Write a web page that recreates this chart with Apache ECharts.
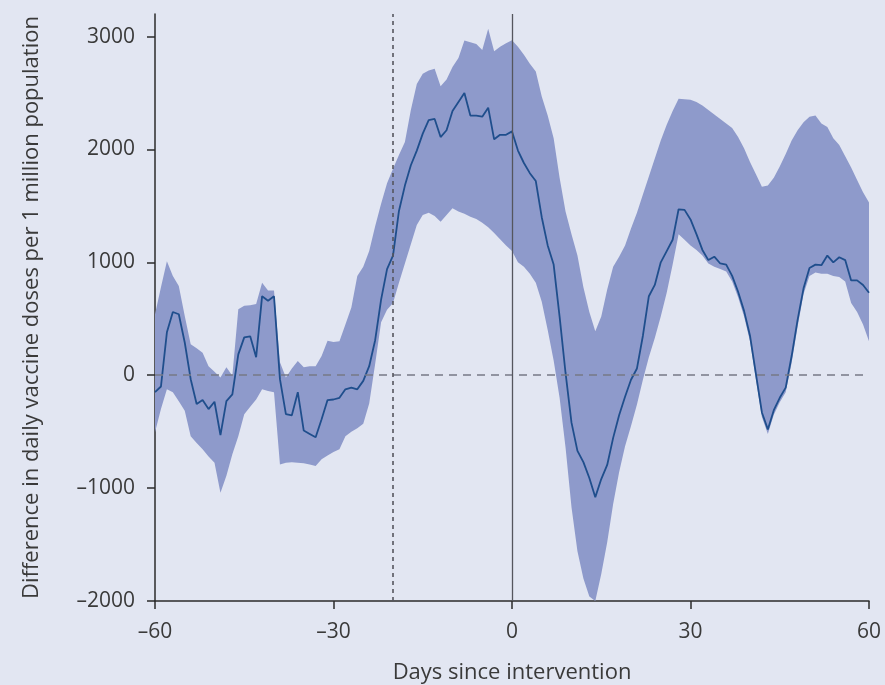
<!DOCTYPE html>
<html>
<head>
<meta charset="utf-8">
<script src="https://cdn.jsdelivr.net/npm/echarts@6/dist/echarts.min.js"></script>
<style>
html,body{margin:0;padding:0;background:#e2e6f2;}
#chart{width:885px;height:685px;}
</style>
</head>
<body>
<div id="chart"></div>
<script>
// Days since intervention
const days = [
 -60,-59,-58,-57,-56,-55,-54,-53,-52,-51,
 -50,-49,-48,-47,-46,-45,-44,-43,-42,-41,
 -40,-39,-38,-37,-36,-35,-34,-33,-32,-31,
 -30,-29,-28,-27,-26,-25,-24,-23,-22,-21,
 -20,-19,-18,-17,-16,-15,-14,-13,-12,-11,
 -10,-9,-8,-7,-6,-5,-4,-3,-2,-1,
 0,1,2,3,4,5,6,7,8,9,
 10,11,12,13,14,15,16,17,18,19,
 20,21,22,23,24,25,26,27,28,29,
 30,31,32,33,34,35,36,37,38,39,
 40,41,42,43,44,45,46,47,48,49,
 50,51,52,53,54,55,56,57,58,59,60
];
// Estimated difference in daily vaccine doses per 1 million population
const meanDiff = [
 -150,-100,380,560,540,290,-35,-255,-220,-300,
 -235,-530,-230,-170,185,335,345,160,700,660,
 700,-35,-345,-355,-150,-490,-520,-550,-390,-220,
 -215,-200,-125,-110,-125,-50,80,310,670,940,
 1060,1455,1680,1860,1990,2140,2260,2270,2110,2170,
 2340,2420,2500,2300,2300,2290,2370,2090,2130,2130,
 2160,1990,1880,1790,1720,1400,1150,980,520,20,
 -420,-670,-770,-910,-1080,-920,-795,-555,-355,-190,
 -40,60,350,700,800,1000,1100,1200,1470,1465,
 1380,1250,1110,1020,1050,990,980,880,740,570,
 350,10,-330,-480,-310,-200,-110,170,490,770,
 950,980,975,1060,1000,1045,1020,840,840,800,730
];
// Upper bound of the uncertainty band
const upperBound = [
 540,780,1010,880,790,525,275,240,200,80,
 30,-20,70,-5,585,615,620,630,820,750,
 750,115,-20,60,125,70,80,80,170,305,
 295,300,450,600,880,960,1100,1320,1520,1700,
 1830,1950,2065,2350,2580,2670,2700,2715,2560,2620,
 2730,2810,2965,2950,2935,2880,3070,2870,2910,2940,
 2968,2910,2840,2760,2690,2470,2300,2100,1750,1450,
 1250,1060,780,560,390,520,760,960,1050,1150,
 1300,1440,1600,1760,1920,2080,2220,2340,2450,2445,
 2440,2420,2390,2350,2310,2270,2230,2190,2110,2010,
 1890,1780,1670,1680,1750,1850,1960,2080,2170,2240,
 2290,2300,2230,2200,2100,2040,1940,1840,1730,1620,1530
];
// Lower bound of the uncertainty band
const lowerBound = [
 -505,-300,-125,-150,-230,-315,-540,-600,-655,-720,
 -775,-1040,-890,-700,-540,-345,-280,-215,-125,-140,
 -150,-790,-775,-770,-775,-780,-790,-805,-745,-710,
 -680,-655,-540,-500,-470,-430,-250,100,470,580,
 640,820,990,1160,1330,1420,1440,1410,1360,1420,
 1480,1450,1430,1405,1385,1350,1310,1260,1205,1150,
 1100,1000,960,900,820,650,400,130,-200,-640,
 -1170,-1560,-1800,-1960,-2000,-1760,-1480,-1140,-860,-630,
 -450,-260,-40,160,330,520,730,980,1250,1200,
 1150,1110,1060,990,960,940,920,830,690,520,
 300,-40,-370,-520,-350,-240,-150,110,430,720,
 880,910,900,900,880,870,830,640,560,450,300
];
const xTicks = [-60,-30,0,30,60];
const yTicks = [-2000,-1000,0,1000,2000,3000];
const interventionDay = 0;
const referenceDay = -20;

const FONT = "'Open Sans', 'Noto Sans', 'DejaVu Sans', sans-serif";
const fmt = v => String(v).replace('-', '\u2013');

const bandData = days.map((d, i) => [d, lowerBound[i], upperBound[i]]);
const meanData = days.map((d, i) => [d, meanDiff[i]]);

function renderBand(params, api) {
  if (params.dataIndex !== 0) return null;
  const pts = [];
  for (let i = 0; i < days.length; i++) pts.push(api.coord([days[i], upperBound[i]]));
  for (let i = days.length - 1; i >= 0; i--) pts.push(api.coord([days[i], lowerBound[i]]));
  return {
    type: 'polygon',
    shape: {points: pts},
    style: {fill: '#8e9acb', stroke: null},
    silent: true
  };
}

const chart = echarts.init(document.getElementById('chart'), null, {renderer: 'canvas'});
chart.setOption({
  backgroundColor: '#e2e6f2',
  animation: false,
  grid: {left: 155, right: 16, top: 14, bottom: 84, containLabel: false, outerBoundsMode: 'none'},
  xAxis: {
    type: 'value', min: -60, max: 60, interval: 30,
    name: 'Days since intervention', nameLocation: 'middle', nameGap: 61,
    nameTextStyle: {fontFamily: FONT, fontSize: 22, color: '#3a3a3a'},
    axisLine: {onZero: false, lineStyle: {color: '#2b2b2b', width: 1.5}},
    axisTick: {show: true, inside: false, length: 8, lineStyle: {color: '#2b2b2b', width: 1.5},
               customValues: xTicks},
    axisLabel: {fontFamily: FONT, fontSize: 21, color: '#3a3a3a', margin: 21, formatter: fmt,
                customValues: xTicks},
    splitLine: {show: false}
  },
  yAxis: {
    type: 'value', min: -2000, max: 3200, interval: 1000,
    name: 'Difference in daily vaccine doses per 1 million population',
    nameLocation: 'middle', nameGap: 112, nameRotate: 90,
    nameTextStyle: {fontFamily: FONT, fontSize: 22, color: '#3a3a3a'},
    axisLine: {onZero: false, lineStyle: {color: '#2b2b2b', width: 1.5}},
    axisTick: {show: true, inside: false, length: 8, lineStyle: {color: '#2b2b2b', width: 1.5},
               customValues: yTicks},
    axisLabel: {fontFamily: FONT, fontSize: 21, color: '#3a3a3a', margin: 20, formatter: fmt,
                customValues: yTicks},
    splitLine: {show: false}
  },
  series: [
    {
      type: 'custom', data: bandData, renderItem: renderBand, silent: true, z: 1,
      encode: {x: 0, y: [1, 2]}, clip: true
    },
    {
      type: 'line', data: [], symbol: 'none', z: 3, silent: true,
      markLine: {
        symbol: 'none', silent: true, label: {show: false}, animation: false,
        data: [
          {yAxis: 0, lineStyle: {color: '#777a86', type: [8, 6], width: 1.6}},
          {xAxis: referenceDay, lineStyle: {color: '#55565e', type: [4, 4], width: 1.6}},
          {xAxis: interventionDay, lineStyle: {color: '#55565e', type: 'solid', width: 1.3}}
        ]
      }
    },
    {
      type: 'line', data: meanData, symbol: 'none', z: 4,
      lineStyle: {color: '#1f4e8c', width: 1.8}
    }
  ]
});
</script>
</body>
</html>
